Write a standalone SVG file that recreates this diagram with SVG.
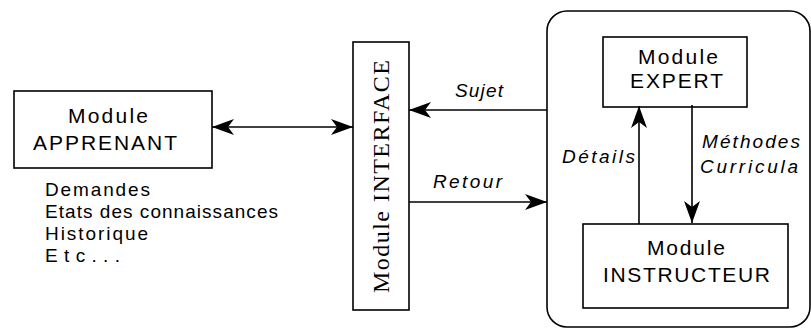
<svg xmlns="http://www.w3.org/2000/svg" width="811" height="331" viewBox="0 0 811 331">
<style>
.box{fill:#fff;stroke:#000;stroke-width:1.6}
.frame{fill:none;stroke:#000;stroke-width:1.6}
.t{font-family:"Liberation Sans",Arial,sans-serif;font-size:21px;fill:#000}
.s{font-family:"Liberation Sans",Arial,sans-serif;font-size:19px;fill:#000}
.i{font-family:"Liberation Sans",Arial,sans-serif;font-size:19px;font-style:italic;fill:#000}
.serif{font-family:"Liberation Serif","Times New Roman",serif;font-size:24px;fill:#000}
.c{fill:none;stroke:#000;stroke-width:1.6}
</style>
<defs>
<marker id="ah" viewBox="0 -8 22 16" refX="22" refY="0" markerWidth="22" markerHeight="16" markerUnits="userSpaceOnUse" orient="auto-start-reverse">
<path d="M0,-8 L22,0 L0,8 L6,0 Z" fill="#000"/>
</marker>
</defs>
<rect id="tuteur-frame" class="frame" x="547" y="11" width="263" height="316" rx="20" ry="20"/>
<g id="apprenant">
<rect class="box" x="14" y="91" width="198" height="77"/>
<text class="t" x="68" y="123" textLength="80" lengthAdjust="spacing">Module</text>
<text class="t" x="33" y="150" textLength="144" lengthAdjust="spacing">APPRENANT</text>
</g>
<g id="apprenant-notes">
<text class="s" x="45" y="196" textLength="105" lengthAdjust="spacing">Demandes</text>
<text class="s" x="45" y="218" textLength="233" lengthAdjust="spacing">Etats des connaissances</text>
<text class="s" x="45" y="240" textLength="103" lengthAdjust="spacing">Historique</text>
<text class="s" x="45" y="262" textLength="75" lengthAdjust="spacing">Etc...</text>
</g>
<g id="interface">
<rect class="box" x="353" y="42" width="56" height="268"/>
<text class="serif" transform="translate(389,176.5) rotate(-90)" text-anchor="middle" textLength="233" lengthAdjust="spacing">Module INTERFACE</text>
</g>
<g id="expert">
<rect class="box" x="603" y="37" width="144" height="70"/>
<text class="t" x="638" y="64" textLength="80" lengthAdjust="spacing">Module</text>
<text class="t" x="630" y="88" textLength="93" lengthAdjust="spacing">EXPERT</text>
</g>
<g id="instructeur">
<rect class="box" x="583" y="224" width="205" height="84"/>
<text class="t" x="647" y="255" textLength="78" lengthAdjust="spacing">Module</text>
<text class="t" x="603" y="282" textLength="167" lengthAdjust="spacing">INSTRUCTEUR</text>
</g>
<g id="connectors">
<line class="c" x1="212" y1="127" x2="353" y2="127" marker-start="url(#ah)" marker-end="url(#ah)"/>
<line class="c" x1="547" y1="110" x2="409" y2="110" marker-end="url(#ah)"/>
<line class="c" x1="409" y1="202" x2="547" y2="202" marker-end="url(#ah)"/>
<line class="c" x1="639" y1="224" x2="639" y2="106" marker-end="url(#ah)"/>
<line class="c" x1="692" y1="105" x2="692" y2="223" marker-end="url(#ah)"/>
<text class="i" x="455" y="97" textLength="48" lengthAdjust="spacing">Sujet</text>
<text class="i" x="433" y="188" textLength="69" lengthAdjust="spacing">Retour</text>
<text class="i" x="562" y="163" textLength="73" lengthAdjust="spacing">Détails</text>
<text class="i" x="702" y="148" textLength="98" lengthAdjust="spacing">Méthodes</text>
<text class="i" x="700" y="173" textLength="98" lengthAdjust="spacing">Curricula</text>
</g>
</svg>
